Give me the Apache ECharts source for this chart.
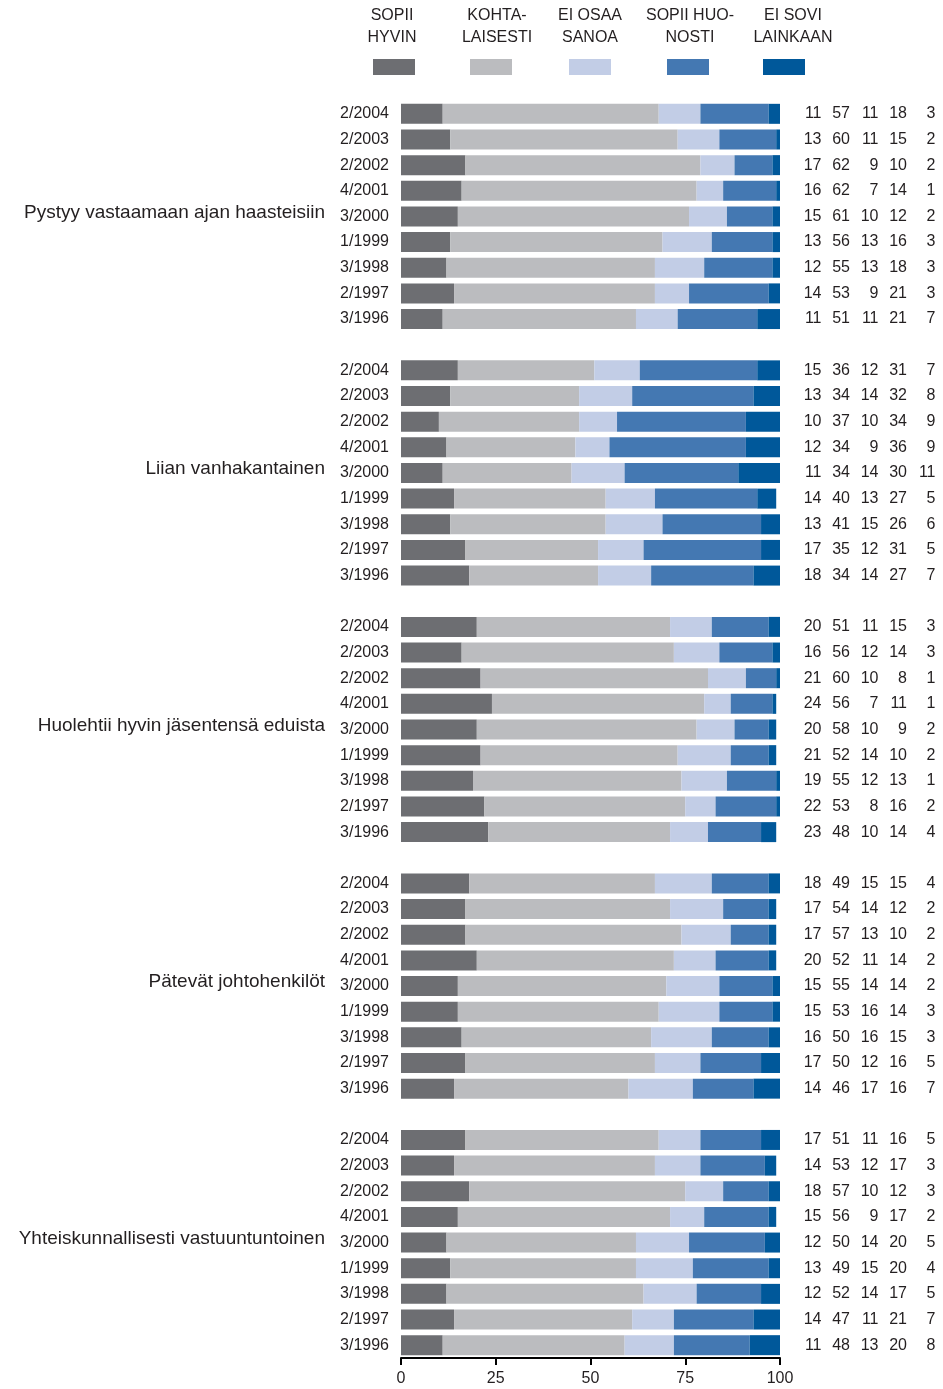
<!DOCTYPE html>
<html>
<head>
<meta charset="utf-8">
<script src="https://cdn.jsdelivr.net/npm/echarts@6/dist/echarts.min.js"></script>
<style>
html,body{margin:0;padding:0;background:#fff;}
#chart{width:943px;height:1389px;}
</style>
</head>
<body>
<div id="chart"></div>
<script>
const periods = ['2/2004','2/2003','2/2002','4/2001','3/2000','1/1999','3/1998','2/1997','3/1996'];
const groupLabels = ['Pystyy vastaamaan ajan haasteisiin','Liian vanhakantainen','Huolehtii hyvin jäsentensä eduista','Pätevät johtohenkilöt','Yhteiskunnallisesti vastuuntuntoinen'];
const seriesNames = ['SOPII\nHYVIN','KOHTA-\nLAISESTI','EI OSAA\nSANOA','SOPII HUO-\nNOSTI','EI SOVI\nLAINKAAN'];
const seriesColors = ['#6d6e72','#bbbcbf','#c2cde6','#4478b2','#00589a'];
const xTicks = [0,25,50,75,100];

// rows: [sopii hyvin, kohtalaisesti, ei osaa sanoa, sopii huonosti, ei sovi lainkaan]
const pystyy = [[11,57,11,18,3],[13,60,11,15,2],[17,62,9,10,2],[16,62,7,14,1],[15,61,10,12,2],[13,56,13,16,3],[12,55,13,18,3],[14,53,9,21,3],[11,51,11,21,7]];
const liian = [[15,36,12,31,7],[13,34,14,32,8],[10,37,10,34,9],[12,34,9,36,9],[11,34,14,30,11],[14,40,13,27,5],[13,41,15,26,6],[17,35,12,31,5],[18,34,14,27,7]];
const huolehtii = [[20,51,11,15,3],[16,56,12,14,3],[21,60,10,8,1],[24,56,7,11,1],[20,58,10,9,2],[21,52,14,10,2],[19,55,12,13,1],[22,53,8,16,2],[23,48,10,14,4]];
const patevat = [[18,49,15,15,4],[17,54,14,12,2],[17,57,13,10,2],[20,52,11,14,2],[15,55,14,14,2],[15,53,16,14,3],[16,50,16,15,3],[17,50,12,16,5],[14,46,17,16,7]];
const yhteis = [[17,51,11,16,5],[14,53,12,17,3],[18,57,10,12,3],[15,56,9,17,2],[12,50,14,20,5],[13,49,15,20,4],[12,52,14,17,5],[14,47,11,21,7],[11,48,13,20,8]];

const groups = [pystyy, liian, huolehtii, patevat, yhteis];
const FONT = "'Liberation Sans',Arial,sans-serif";
const TXT = '#231f20';

const cats = [], catLabels = [], rowVals = [], midCats = [];
groups.forEach((g, gi) => {
  if (gi > 0) { cats.push('gap' + gi); catLabels.push(''); rowVals.push(null); }
  periods.forEach((p, i) => {
    const id = 'g' + gi + 'r' + i;
    cats.push(id); catLabels.push(p); rowVals.push(g[i]);
    if (i === 4) midCats.push(id);
  });
});

const series = seriesNames.map((name, k) => ({
  name: name,
  type: 'bar',
  stack: 'total',
  barWidth: 20,
  yAxisIndex: 0,
  itemStyle: { color: seriesColors[k] },
  emphasis: { disabled: true },
  data: rowVals.map(r => r ? r[k] : '-')
}));

const chart = echarts.init(document.getElementById('chart'), null, { renderer: 'canvas' });

const rich = {};
['a','b','c','d','e'].forEach(k => { rich[k] = { width: 28.5, align: 'right', fontSize: 16, fontFamily: FONT, color: TXT }; });

chart.setOption({
  animation: false,
  textStyle: { fontFamily: FONT, color: TXT },
  grid: { left: 401, right: 163, top: 101, bottom: 31, containLabel: false },
  xAxis: {
    type: 'value', min: 0, max: 100, interval: 25,
    splitLine: { show: false },
    axisLine: { show: true, lineStyle: { color: '#000', width: 2 } },
    axisTick: { show: true, length: 7, lineStyle: { color: '#000', width: 2 } },
    axisLabel: { fontSize: 16, color: TXT, fontFamily: FONT, margin: 13,
      formatter: v => xTicks.indexOf(v) >= 0 ? String(v) : '' }
  },
  yAxis: [{
    type: 'category', inverse: true, data: cats,
    axisLine: { show: false }, axisTick: { show: false },
    axisLabel: { fontSize: 16, color: TXT, fontFamily: FONT, margin: 12, interval: 0,
      formatter: (v, i) => catLabels[i] }
  }, {
    type: 'category', inverse: true, data: cats, position: 'right',
    axisLine: { show: false }, axisTick: { show: false },
    axisLabel: { margin: 13, interval: 0, align: 'left', rich: rich,
      formatter: (v, i) => {
        const r = rowVals[i];
        if (!r) return '';
        return ['a','b','c','d','e'].map((k, j) => '{' + k + '|' + r[j] + '}').join('');
      } }
  }],
  series: series
});

const legendRectLeft = [373, 470, 569, 667, 763];
const legendTextCenter = [392, 497, 590, 690, 793];
const graphics = [];
seriesNames.forEach((name, k) => {
  graphics.push({ type: 'rect', left: legendRectLeft[k], top: 59, shape: { width: 42, height: 16 }, style: { fill: seriesColors[k] } });
  graphics.push({ type: 'text', x: legendTextCenter[k], y: 5,
    style: { text: name, fontSize: 16, lineHeight: 22, fontFamily: FONT, fill: TXT, align: 'center', verticalAlign: 'top' } });
});
midCats.forEach((c, gi) => {
  const y = chart.convertToPixel({ yAxisIndex: 0 }, c);
  graphics.push({ type: 'text', x: 325, y: y - 4,
    style: { text: groupLabels[gi], fontSize: 19, fontFamily: FONT, fill: TXT, align: 'right', verticalAlign: 'middle' } });
});
chart.setOption({ graphic: graphics });
</script>
</body>
</html>
